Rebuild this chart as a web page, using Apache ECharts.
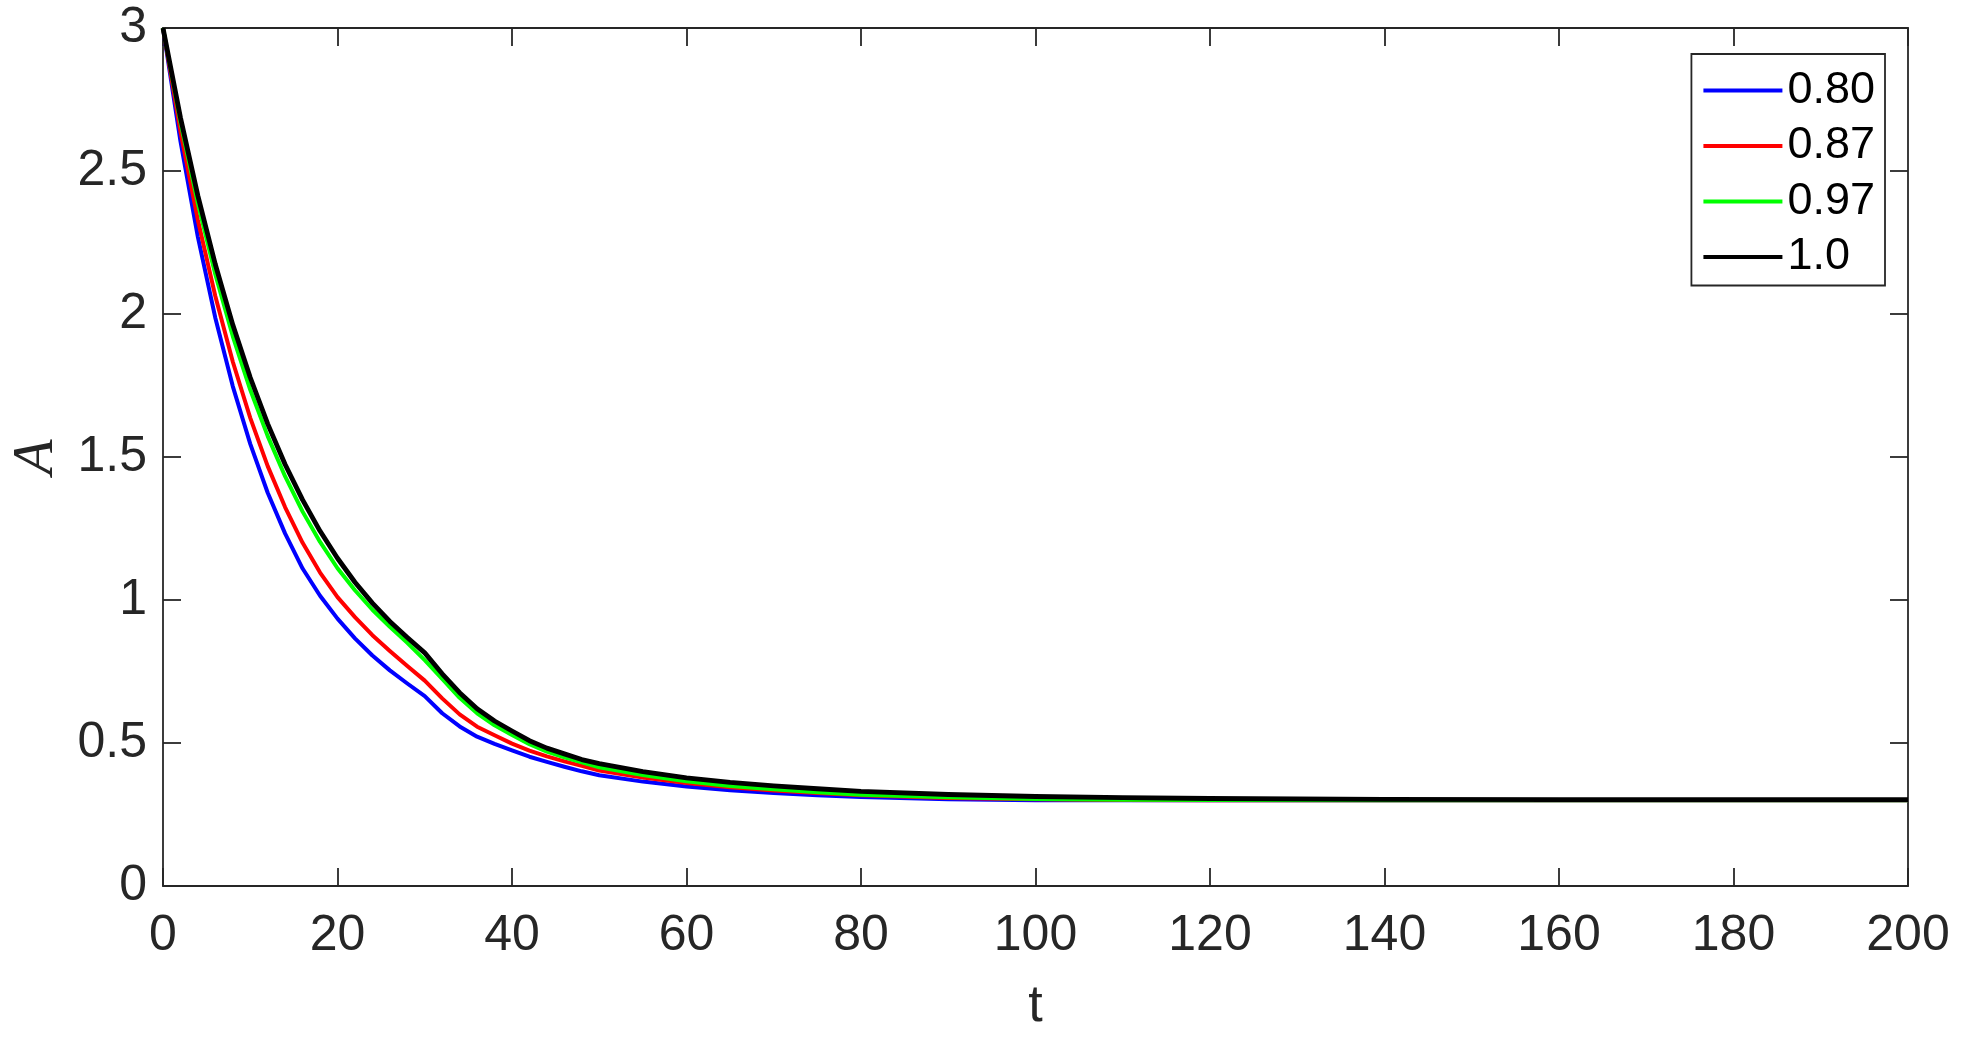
<!DOCTYPE html>
<html>
<head>
<meta charset="utf-8">
<script src="https://cdn.jsdelivr.net/npm/echarts@6/dist/echarts.min.js"></script>
<style>
  html, body { margin: 0; padding: 0; background: #fff; }
  #chart { width: 1962px; height: 1038px; }
</style>
</head>
<body>
<div id="chart"></div>
<script>
// ---- data ----
const tValues = [0, 2, 4, 6, 8, 10, 12, 14, 16, 18, 20, 22, 24, 26, 28, 30,
                 32, 34, 36, 38, 40, 42, 44, 46, 48, 50,
                 55, 60, 65, 70, 75, 80, 90, 100, 110, 120, 140, 160, 180, 200];

const seriesNames = ['0.80', '0.87', '0.97', '1.0'];

const a080 = [3.0, 2.604, 2.269, 1.986, 1.747, 1.546, 1.375, 1.232, 1.110, 1.015, 0.935, 0.866, 0.806, 0.754, 0.708, 0.664,
              0.604, 0.558, 0.522, 0.497, 0.474, 0.452, 0.434, 0.417, 0.401, 0.387,
              0.365, 0.348, 0.335, 0.325, 0.317, 0.311, 0.303, 0.300, 0.300, 0.300, 0.300, 0.300, 0.300, 0.300];

const a087 = [3.0, 2.638, 2.328, 2.062, 1.833, 1.637, 1.468, 1.324, 1.200, 1.096, 1.010, 0.940, 0.877, 0.822, 0.769, 0.718,
              0.656, 0.600, 0.557, 0.527, 0.498, 0.473, 0.453, 0.436, 0.420, 0.404,
              0.379, 0.360, 0.345, 0.334, 0.325, 0.317, 0.308, 0.303, 0.301, 0.300, 0.300, 0.300, 0.300, 0.300];

const a097 = [3.0, 2.671, 2.386, 2.138, 1.922, 1.735, 1.573, 1.432, 1.309, 1.203, 1.111, 1.034, 0.966, 0.906, 0.850, 0.790,
              0.724, 0.658, 0.604, 0.562, 0.528, 0.496, 0.470, 0.450, 0.432, 0.415,
              0.388, 0.366, 0.350, 0.338, 0.328, 0.319, 0.310, 0.304, 0.302, 0.301, 0.300, 0.300, 0.300, 0.300];

const a100 = [3.0, 2.687, 2.413, 2.173, 1.962, 1.778, 1.616, 1.474, 1.350, 1.241, 1.146, 1.062, 0.989, 0.925, 0.869, 0.815,
              0.742, 0.676, 0.620, 0.577, 0.542, 0.508, 0.482, 0.462, 0.442, 0.428,
              0.400, 0.378, 0.362, 0.350, 0.340, 0.331, 0.320, 0.313, 0.309, 0.306, 0.303, 0.302, 0.302, 0.302];

const xTickLabels = ['0', '20', '40', '60', '80', '100', '120', '140', '160', '180', '200'];
const yTickLabels = ['0', '0.5', '1', '1.5', '2', '2.5', '3'];

const xName = 't';
const yName = 'A';

// ---- styling ----
const colors = ['#0000FF', '#FF0000', '#00FF00', '#000000'];
const widths = [4, 4, 4, 4.8];
const axisColor = '#262626';
const sans = '"Liberation Sans", Arial, Helvetica, sans-serif';

function pairs(ys) { return tValues.map((t, i) => [t, ys[i]]); }
const allValues = [a080, a087, a097, a100];

const tickStyle = { show: true, inside: true, length: 18, lineStyle: { color: axisColor, width: 1.8 } };
const lineStyleAxis = { show: true, onZero: false, lineStyle: { color: axisColor, width: 1.8 } };

const chart = echarts.init(document.getElementById('chart'), null, { renderer: 'canvas' });
chart.setOption({
  animation: false,
  backgroundColor: '#ffffff',
  grid: { left: 160, right: 54, top: 28, bottom: 146, containLabel: false },
  legend: {
    right: 1962 - 1885, top: 54,
    orient: 'vertical',
    data: seriesNames.map((n, i) => ({ name: n, icon: 'rect', itemStyle: { color: colors[i] } })),
    itemWidth: 79, itemHeight: 4, itemGap: 10.5,
    padding: [14, 10, 6, 12],
    backgroundColor: '#ffffff',
    borderColor: axisColor, borderWidth: 1.8,
    textStyle: { fontFamily: sans, fontSize: 45, color: '#000', lineHeight: 45 }
  },
  xAxis: [{
    type: 'value', position: 'bottom', min: 0, max: 200, interval: 20,
    name: xName, nameLocation: 'middle', nameGap: 95,
    nameTextStyle: { fontFamily: sans, fontSize: 52, color: axisColor },
    axisLine: lineStyleAxis, axisTick: tickStyle,
    axisLabel: { margin: 25, fontFamily: sans, fontSize: 50, color: axisColor,
                 formatter: v => xTickLabels[Math.round(v / 20)] },
    splitLine: { show: false }
  }, {
    type: 'value', position: 'top', min: 0, max: 200, interval: 20,
    axisLine: lineStyleAxis, axisTick: tickStyle, axisLabel: { show: false }, splitLine: { show: false }
  }],
  yAxis: [{
    type: 'value', position: 'left', min: 0, max: 3, interval: 0.5,
    name: yName, nameLocation: 'middle', nameGap: 97, nameRotate: 90,
    nameTextStyle: { fontFamily: '"Liberation Serif", "Times New Roman", serif', fontStyle: 'italic', fontSize: 58, color: axisColor },
    axisLine: lineStyleAxis, axisTick: tickStyle,
    axisLabel: { margin: 16, fontFamily: sans, fontSize: 50, color: axisColor, padding: [16, 0, 0, 0],
                 formatter: v => yTickLabels[Math.round(v / 0.5)] },
    splitLine: { show: false }
  }, {
    type: 'value', position: 'right', min: 0, max: 3, interval: 0.5,
    axisLine: lineStyleAxis, axisTick: tickStyle, axisLabel: { show: false }, splitLine: { show: false }
  }],
  series: seriesNames.map((n, i) => ({
    name: n, type: 'line', xAxisIndex: 0, yAxisIndex: 0,
    data: pairs(allValues[i]),
    showSymbol: false, symbol: 'none',
    lineStyle: { color: colors[i], width: widths[i], join: 'round' },
    itemStyle: { color: colors[i] },
    z: 2 + i
  }))
});
</script>
</body>
</html>
